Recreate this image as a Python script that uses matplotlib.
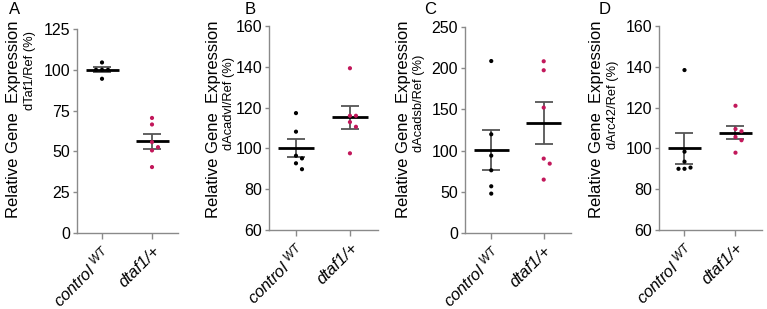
import numpy as np
import matplotlib
matplotlib.use('Agg')
import matplotlib.pyplot as plt

plt.rcParams['font.family'] = ['Liberation Sans', 'DejaVu Sans']
plt.rcParams['mathtext.fontset'] = 'custom'
plt.rcParams['mathtext.rm'] = 'Liberation Sans'
plt.rcParams['mathtext.it'] = 'Liberation Sans:italic'

# %% Data
groups = ['control $^{WT}$', 'dtaf1/+']
letters = ['A', 'B', 'C', 'D']
genes = ['dTaf1/Ref (%)', 'dAcadvl/Ref (%)', 'dAcadsb/Ref (%)', 'dArc42/Ref (%)']

ctrl_A = [104.5, 100.0, 100.0, 100.0, 94.5]
taf_A = [70.5, 66.5, 55.7, 52.6, 50.6, 40.4]
ctrl_B = [117.3, 108.2, 96.4, 95.1, 92.7, 89.8]
taf_B = [139.3, 116.0, 116.0, 112.9, 110.6, 97.6]
ctrl_C = [208.7, 119.8, 93.9, 76.1, 56.7, 47.8]
taf_C = [208.4, 197.5, 152.2, 90.3, 84.2, 64.8]
ctrl_D = [138.4, 98.4, 93.5, 90.6, 90.0, 90.0]
taf_D = [120.9, 109.5, 108.4, 105.6, 104.0, 97.9]

# mean and SEM as drawn
mean_ctrl = [100.0, 100.0, 100.4, 100.0]
sem_ctrl = [1.5, 4.4, 24.2, 7.7]
mean_taf = [56.3, 115.2, 133.5, 107.7]
sem_taf = [4.6, 5.5, 25.1, 3.1]

ylims = [(0, 125), (60, 160), (0, 250), (60, 160)]
yticks = [[0, 25, 50, 75, 100, 125], [60, 80, 100, 120, 140, 160],
          [0, 50, 100, 150, 200, 250], [60, 80, 100, 120, 140, 160]]

points = [(ctrl_A, taf_A), (ctrl_B, taf_B), (ctrl_C, taf_C), (ctrl_D, taf_D)]

# %% layout (pixels, origin top-left)
W, H = 767, 309
boxes = [(77, 178, 29, 233), (269, 378, 26, 230), (465, 571, 27, 233), (659, 762, 26, 230)]
ylab_x = [14, 213, 403, 596]
gene_x = [30, 229, 419, 613]
gene_y = [70, 103, 103, 105]
letter_x = [15, 250, 430, 605]

colors = ['black', '#c2185b']
axcol = '#8a8a8a'


def swarm(ax, x0, vals, dot=6.0):
    # simple beeswarm in pixel space
    tr = ax.transData
    placed = []
    xs = []
    for v in vals:
        px, py = tr.transform((x0, v))
        k = 0
        while True:
            step = (k + 1) // 2 * (1 if k % 2 else -1) * dot
            cx = px + step
            if all((cx - qx) ** 2 + (py - qy) ** 2 >= dot ** 2 for qx, qy in placed):
                break
            k += 1
        placed.append((cx, py))
        xs.append(tr.inverted().transform((cx, py))[0])
    return xs


fig = plt.figure(figsize=(W / 100, H / 100), dpi=100)

for i in range(4):
    l, r, t, b = boxes[i]
    ax = fig.add_axes([l / W, 1 - b / H, (r - l) / W, (b - t) / H])
    ax.set_xlim(-0.5, 1.52)
    ax.set_ylim(*ylims[i])
    ax.set_yticks(yticks[i])
    ax.set_xticks([0, 1])
    ax.set_xticklabels(groups, rotation=45, ha='right', rotation_mode='anchor',
                       fontstyle='italic', fontsize=12)
    ax.tick_params(axis='y', labelsize=11.5, length=3, width=1, color=axcol, pad=2)
    ax.tick_params(axis='x', length=4, width=1, color=axcol, pad=3)
    for s in ['top', 'right']:
        ax.spines[s].set_visible(False)
    for s in ['left', 'bottom']:
        ax.spines[s].set_color(axcol)
        ax.spines[s].set_linewidth(1)

    means = [mean_ctrl[i], mean_taf[i]]
    sems = [sem_ctrl[i], sem_taf[i]]
    for g in range(2):
        ax.errorbar([g], [means[g]], yerr=[sems[g]], fmt='none', ecolor='#555555',
                    elinewidth=1.3, capsize=6.5, capthick=1.3, zorder=2)
        ax.hlines(means[g], g - 0.33, g + 0.33, color='black', lw=2, zorder=3)
        xs = swarm(ax, g, points[i][g])
        ax.scatter(xs, points[i][g], s=9, color=colors[g], edgecolor='none', zorder=4)

    fig.text(ylab_x[i] / W, 1 - 119 / H, 'Relative Gene  Expression', rotation=90,
             ha='center', va='center', fontsize=12)
    fig.text(gene_x[i] / W, 1 - gene_y[i] / H, genes[i], rotation=90,
             ha='center', va='center', fontsize=9.3)
    fig.text(letter_x[i] / W, 1 - 10 / H, letters[i], ha='center', va='center', fontsize=12)

fig.savefig('out.png', dpi=100)
